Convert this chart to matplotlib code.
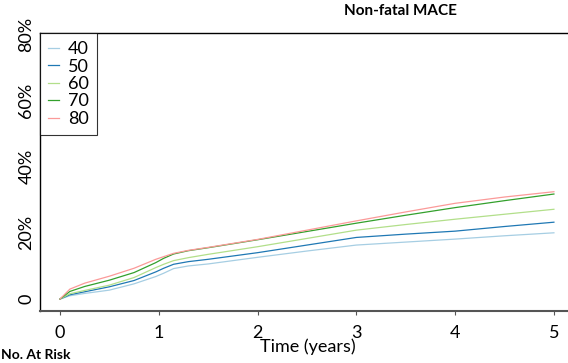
import matplotlib
matplotlib.use("Agg")
from matplotlib import pyplot as plt

plt.rcParams['font.family'] = ['Lato', 'DejaVu Sans']

# time points (years) and cumulative incidence (%) per age group
times = [0, 0.1, 0.25, 0.5, 0.75, 0.97, 1.05, 1.15, 1.3, 1.5, 2, 2.5, 3, 3.5, 4, 4.5, 5]
age40 = [0, 1.0, 1.7, 2.7, 4.6, 6.8, 7.8, 9.2, 10.0, 10.6, 12.6, 14.5, 16.3, 17.2, 18.1, 19.1, 20.0]
age50 = [0, 1.3, 2.2, 3.7, 5.6, 8.2, 9.3, 10.5, 11.3, 12.0, 14.0, 16.3, 18.6, 19.6, 20.5, 21.9, 23.2]
age60 = [0, 1.6, 2.6, 4.2, 6.5, 9.5, 10.5, 11.6, 12.5, 13.5, 15.8, 18.3, 20.8, 22.5, 24.1, 25.6, 27.1]
age70 = [0, 2.3, 3.8, 5.7, 8.0, 11.0, 12.3, 13.6, 14.6, 15.5, 17.9, 20.4, 22.9, 25.3, 27.6, 29.7, 31.7]
age80 = [0, 3.0, 4.8, 6.9, 9.3, 12.0, 12.8, 13.8, 14.7, 15.6, 18.0, 20.8, 23.6, 26.3, 28.9, 30.8, 32.4]

labels = ['40', '50', '60', '70', '80']
colors = ['#a6cee3', '#1f78b4', '#b2df8a', '#33a02c', '#fb9a99']
yticks = [0, 0.2, 0.4, 0.6, 0.8]
ytick_labels = ['0', '20%', '40%', '60%', '80%']
xticks = [0, 1, 2, 3, 4, 5]

fig = plt.figure(figsize=(5.68, 3.63), dpi=100)
ax = fig.add_axes([40 / 568, 1 - 311 / 363, 1 - 40 / 568 + 0.01, (311 - 33) / 363])

series = [age40, age50, age60, age70, age80]
for vals, lab, col in zip(series, labels, colors):
    ax.plot(times, [v / 100 for v in vals], color=col, lw=0.9, label=lab)

ax.set_xlim(-0.202, 5.2)
ax.set_ylim(-0.036, 0.803)
ax.spines['right'].set_visible(False)
for s in ['left', 'bottom', 'top']:
    ax.spines[s].set_linewidth(1.0)
ax.spines['bottom'].set_color('#555555')
ax.spines['bottom'].set_linewidth(1.5)

ax.set_xticks(xticks)
ax.set_xticklabels([str(t) for t in xticks], fontsize=13)
ax.tick_params(axis='x', length=3, width=0.8, color='#555555', pad=7)
ax.set_yticks(yticks)
ax.set_yticklabels(ytick_labels, fontsize=13, rotation=90, va='center')
ax.tick_params(axis='y', length=0, pad=4)

leg = ax.legend(loc='upper left', bbox_to_anchor=(0, 1), fontsize=13, frameon=True,
                fancybox=False, edgecolor='black', borderaxespad=0, handlelength=0.6,
                handletextpad=0.5, labelspacing=0.08, borderpad=0.45)
leg.get_frame().set_linewidth(0.8)

fig.text(400 / 568, 1 - 11 / 363, 'Non-fatal MACE', ha='center', va='center',
         fontsize=11, fontweight='bold')
fig.text(308 / 568, 1 - 347 / 363, 'Time (years)', ha='center', va='center', fontsize=13)
fig.text(0.002, 1 - 355 / 363, 'No. At Risk', ha='left', va='center', fontsize=10,
         fontweight='bold')

fig.savefig('out.png', dpi=100)
